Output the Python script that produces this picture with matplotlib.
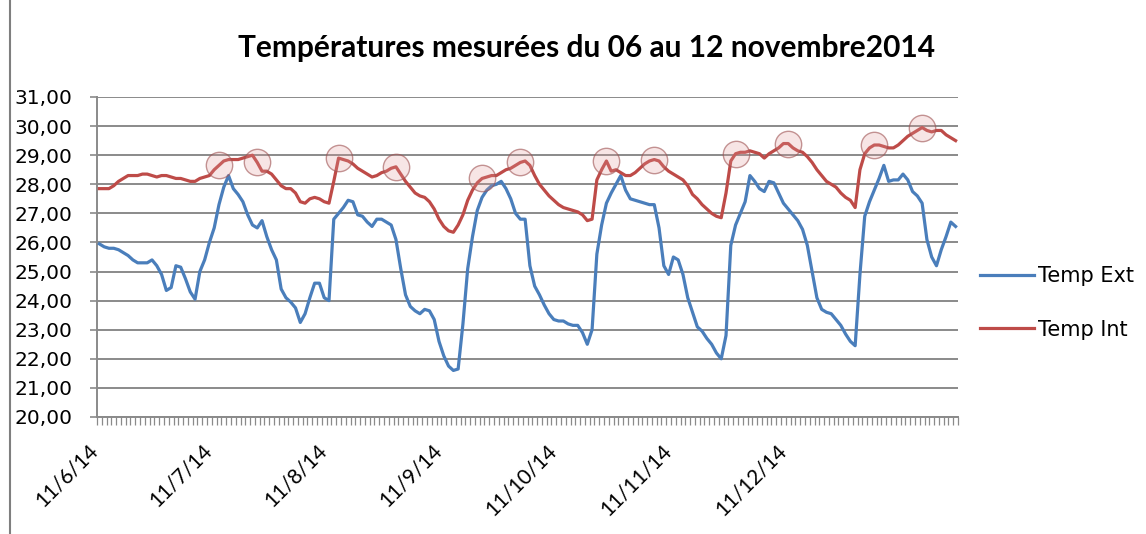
import matplotlib
matplotlib.use("Agg")
import matplotlib.pyplot as plt
import matplotlib.transforms as mtransforms
from matplotlib.lines import Line2D
from matplotlib.ticker import FuncFormatter

# hourly readings, 06/11/2014 00h onwards
temp_ext = [
    25.95, 25.85, 25.8, 25.8, 25.75, 25.65, 25.55, 25.4, 25.3, 25.3,
    25.3, 25.4, 25.2, 24.9, 24.35, 24.45, 25.2, 25.15, 24.75, 24.3,
    24.05, 25.0, 25.4, 26.0, 26.5, 27.3, 27.9, 28.3, 27.85, 27.65,
    27.4, 26.95, 26.6, 26.5, 26.75, 26.2, 25.75, 25.4, 24.4, 24.1,
    23.95, 23.75, 23.25, 23.55, 24.1, 24.6, 24.6, 24.1, 24.0, 26.8,
    27.0, 27.2, 27.45, 27.4, 26.95, 26.9, 26.7, 26.55, 26.8, 26.8,
    26.7, 26.6, 26.1, 25.1, 24.2, 23.8, 23.65, 23.55, 23.7, 23.65,
    23.35, 22.6, 22.1, 21.75, 21.6, 21.65, 23.2, 25.1, 26.2, 27.1,
    27.55, 27.8, 27.95, 28.0, 28.1, 27.85, 27.5, 27.0, 26.8, 26.8,
    25.2, 24.5, 24.2, 23.85, 23.55, 23.35, 23.3, 23.3, 23.2, 23.15,
    23.15, 22.9, 22.5, 23.0, 25.6, 26.6, 27.35, 27.7, 28.0, 28.3,
    27.8, 27.5, 27.45, 27.4, 27.35, 27.3, 27.3, 26.5, 25.2, 24.9,
    25.5, 25.4, 24.9, 24.1, 23.6, 23.1, 22.95, 22.7, 22.5, 22.2,
    22.0, 22.8, 25.9, 26.6, 27.0, 27.4, 28.3, 28.1, 27.85, 27.75,
    28.1, 28.05, 27.7, 27.35, 27.15, 26.95, 26.75, 26.45, 25.9, 25.0,
    24.1, 23.7, 23.6, 23.55, 23.35, 23.15, 22.85, 22.6, 22.45, 24.9,
    26.9, 27.4, 27.8, 28.2, 28.65, 28.1, 28.15, 28.15, 28.35, 28.15,
    27.75, 27.6, 27.35, 26.1, 25.5, 25.2, 25.75, 26.2, 26.7, 26.55,
]
temp_int = [
    27.85, 27.85, 27.85, 27.95, 28.1, 28.2, 28.3, 28.3, 28.3, 28.35,
    28.35, 28.3, 28.25, 28.3, 28.3, 28.25, 28.2, 28.2, 28.15, 28.1,
    28.1, 28.2, 28.25, 28.3, 28.5, 28.65, 28.8, 28.85, 28.85, 28.85,
    28.9, 28.95, 29.0, 28.75, 28.45, 28.45, 28.35, 28.15, 27.95, 27.85,
    27.85, 27.7, 27.4, 27.35, 27.5, 27.55, 27.5, 27.4, 27.35, 28.1,
    28.9, 28.85, 28.8, 28.7, 28.55, 28.45, 28.35, 28.25, 28.3, 28.4,
    28.45, 28.55, 28.6, 28.35, 28.1, 27.9, 27.7, 27.6, 27.55, 27.4,
    27.15, 26.8, 26.55, 26.4, 26.35, 26.6, 26.95, 27.45, 27.8, 28.05,
    28.2, 28.25, 28.3, 28.3, 28.4, 28.5, 28.55, 28.65, 28.75, 28.8,
    28.65, 28.3, 28.0, 27.8, 27.6, 27.45, 27.3, 27.2, 27.15, 27.1,
    27.05, 26.95, 26.75, 26.8, 28.15, 28.5, 28.8, 28.45, 28.5, 28.4,
    28.3, 28.3, 28.4, 28.55, 28.7, 28.8, 28.85, 28.8, 28.6, 28.45,
    28.35, 28.25, 28.15, 27.95, 27.65, 27.5, 27.3, 27.15, 27.0, 26.9,
    26.85, 27.7, 28.8, 29.05, 29.1, 29.1, 29.15, 29.1, 29.05, 28.9,
    29.05, 29.15, 29.25, 29.4, 29.4, 29.25, 29.15, 29.1, 28.95, 28.75,
    28.5, 28.3, 28.1, 28.0, 27.9, 27.7, 27.55, 27.45, 27.2, 28.5,
    29.05, 29.25, 29.35, 29.35, 29.3, 29.25, 29.25, 29.35, 29.5, 29.65,
    29.75, 29.85, 29.95, 29.85, 29.8, 29.85, 29.85, 29.7, 29.6, 29.5,
]
# readings flagged with a circle on the inside curve
flagged = [25, 33, 50, 62, 80, 88, 106, 116, 133, 144, 162, 172]
day_labels = ["11/6/14", "11/7/14", "11/8/14", "11/9/14",
              "11/10/14", "11/11/14", "11/12/14"]

n = len(temp_ext)
hours = list(range(n))
grid_col = "#8a8a8a"

fig = plt.figure(figsize=(11.46, 5.34), dpi=100)
ax = fig.add_axes([97 / 1146, 1 - 417 / 534, 861 / 1146, 320 / 534])

ax.plot(hours, temp_ext, color="#4a7ebb", lw=2.3, label="Temp Ext", zorder=3)
ax.plot(hours, temp_int, color="#be4b48", lw=2.3, label="Temp Int", zorder=3)
ax.plot([hours[i] for i in flagged], [temp_int[i] for i in flagged],
        ls="none", marker="o", ms=19, mfc=(0.88, 0.6, 0.6, 0.25),
        mec=(0.62, 0.32, 0.32, 0.6), mew=1.0, zorder=4)

ax.set_xlim(-0.5, n - 0.5)
ax.set_ylim(20, 31)
ax.set_yticks(range(20, 32))
ax.yaxis.set_major_formatter(FuncFormatter(lambda v, p: f"{v:.2f}".replace(".", ",")))
ax.grid(axis="y", color=grid_col, lw=1.4)
ax.set_axisbelow(True)

ax.set_xticks([24 * k for k in range(len(day_labels))])
ax.set_xticklabels(day_labels, rotation=45, ha="right", va="center",
                   rotation_mode="anchor", fontfamily="Lato", fontsize=15)
ax.set_xticks([k - 0.5 for k in range(n + 1)], minor=True)
ax.tick_params(axis="x", which="major", length=0, pad=22)
ax.tick_params(axis="x", which="minor", length=6, width=0.9, color=grid_col)
ax.tick_params(axis="y", length=5, width=1.2, color=grid_col, pad=13,
               labelsize=14.5)

# nudge the slanted day labels a little to the left
shift = mtransforms.ScaledTranslation(-5 / 100, 0, fig.dpi_scale_trans)
for lbl in ax.get_xticklabels():
    lbl.set_transform(lbl.get_transform() + shift)

for side in ("top", "right"):
    ax.spines[side].set_visible(False)
for side in ("left", "bottom"):
    ax.spines[side].set_color(grid_col)
    ax.spines[side].set_linewidth(1.4)

fig.text(0.512, 0.91, "Températures mesurées du 06 au 12 novembre2014",
         ha="center", va="center", fontfamily="Lato", fontweight="bold",
         fontsize=21.5)

fig.legend(loc="center left", bbox_to_anchor=(980 / 1146, 1 - 303 / 534),
           frameon=False, fontsize=15, handlelength=2.6, handletextpad=0.2,
           labelspacing=1.6, borderpad=0, borderaxespad=0)

fig.add_artist(Line2D([10 / 1146, 10 / 1146], [0, 1], color="#7f7f7f",
                      lw=1.5, transform=fig.transFigure))

fig.savefig("out.png", dpi=100)
